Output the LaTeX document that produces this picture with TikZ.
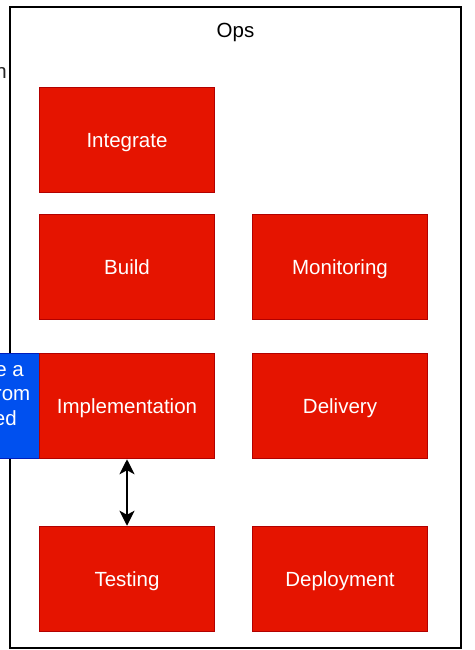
\documentclass[tikz,border=0pt]{standalone}
\usepackage{fontspec}
\setmainfont{Liberation Sans}
\usetikzlibrary{arrows.meta}
\definecolor{dred}{HTML}{E51400}
\definecolor{dredline}{HTML}{B20000}
\definecolor{dblue}{HTML}{0050EF}
\definecolor{dblueline}{HTML}{001DBC}
\tikzset{
  redbox/.style={draw=dredline, fill=dred, line width=1.5pt, minimum width=175pt, minimum height=105pt, inner sep=0pt, text height=15pt, text depth=0pt, text=white, font=\fontsize{20.5pt}{24pt}\selectfont},
  bluebox/.style={draw=dblueline, fill=dblue, line width=1.5pt, inner sep=0pt},
  frag/.style={inner sep=0pt, font=\fontsize{20.5pt}{24pt}\selectfont},
  conn/.style={line width=1.8pt, {Stealth[length=15pt,width=15pt,inset=4pt]}-{Stealth[length=15pt,width=15pt,inset=4pt]}}
}
\begin{document}
\begin{tikzpicture}[x=1pt,y=-1pt]
\useasboundingbox (0,0) rectangle (474,650);
\clip (0,0) rectangle (474,650);
\fill[white] (0,0) rectangle (474,650);
% frame
\draw[line width=1.8pt, draw=black] (10,7) rectangle (461,648);
\node[frag, anchor=base] (ops) at (235.5,38) {Ops};
% outside fragment
\node[frag, anchor=base east, text=black!85] (frn) at (7,79) {n};
% blue box
\node[bluebox, minimum width=60pt, minimum height=105pt] (blue) at (11.5,406) {};
\node[frag, anchor=base east, text=white] (b1) at (24,376) {e a};
\node[frag, anchor=base east, text=white] (b2) at (30.5,400) {rom};
\node[frag, anchor=base east, text=white] (b3) at (17,425) {ed};
% red boxes
\node[redbox] (integrate) at (127,140) {Integrate};
\node[redbox] (build) at (127,267) {Build};
\node[redbox] (monitoring) at (340,267) {Monitoring};
\node[redbox] (impl) at (127,406) {Implementation};
\node[redbox] (delivery) at (340,406) {Delivery};
\node[redbox] (testing) at (127,579) {Testing};
\node[redbox] (deployment) at (340,579) {Deployment};
% connector
\draw[conn] (impl.south) -- (testing.north);
\end{tikzpicture}
\end{document}
